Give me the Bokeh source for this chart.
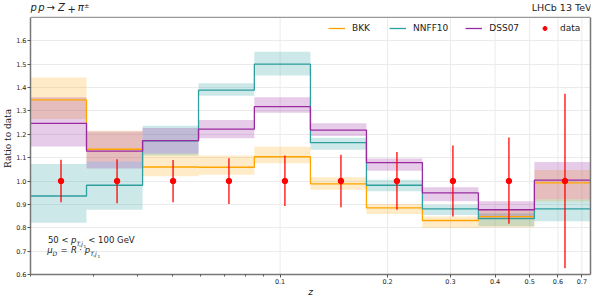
import numpy as np
from bokeh.plotting import figure
from bokeh.models import (Range1d, FixedTicker, Label, Legend, LegendItem, BasicTickFormatter,
                          Span, LinearAxis)
from bokeh.embed import file_html
from bokeh.resources import INLINE

# ---- data ----
z_edges = [0.0200, 0.0287, 0.0412, 0.0591, 0.0847, 0.1216, 0.1745, 0.2503, 0.3592, 0.5154, 0.7400]

bkk = [1.347, 1.136, 1.060, 1.059, 1.104, 0.988, 0.885, 0.831, 0.848, 0.992]
bkk_lo = [1.265, 1.084, 1.020, 1.027, 1.076, 0.963, 0.859, 0.799, 0.802, 0.912]
bkk_hi = [1.443, 1.215, 1.118, 1.109, 1.147, 1.016, 0.902, 0.848, 0.876, 1.047]

nnff = [0.936, 0.982, 1.172, 1.389, 1.500, 1.164, 0.982, 0.881, 0.839, 0.881]
nnff_lo = [0.821, 0.877, 1.109, 1.365, 1.452, 1.134, 0.956, 0.855, 0.806, 0.828]
nnff_hi = [1.073, 1.084, 1.237, 1.418, 1.553, 1.185, 1.005, 0.898, 0.862, 0.922]

dss = [1.247, 1.128, 1.173, 1.222, 1.318, 1.218, 1.079, 0.949, 0.877, 1.004]
dss_lo = [1.148, 1.054, 1.118, 1.183, 1.292, 1.193, 1.044, 0.913, 0.838, 0.922]
dss_hi = [1.358, 1.212, 1.227, 1.261, 1.358, 1.247, 1.096, 0.973, 0.913, 1.081]

data = [1.0, 1.0, 1.0, 1.0, 1.0, 1.0, 1.0, 1.0, 1.0, 1.0]
data_lo = [0.909, 0.905, 0.909, 0.902, 0.893, 0.888, 0.877, 0.848, 0.817, 0.627]
data_hi = [1.091, 1.093, 1.090, 1.097, 1.109, 1.112, 1.124, 1.152, 1.186, 1.374]

x_major_ticks = [0.1, 0.2, 0.3, 0.4, 0.5, 0.6, 0.7]
x_major_labels = ["0.1", "0.2", "0.3", "0.4", "0.5", "0.6", "0.7"]
x_minor_ticks = [0.02, 0.03, 0.04, 0.05, 0.06, 0.07, 0.08, 0.09]
y_ticks = [0.6, 0.7, 0.8, 0.9, 1.0, 1.1, 1.2, 1.3, 1.4, 1.5, 1.6]
y_labels = ["0.6", "0.7", "0.8", "0.9", "1.0", "1.1", "1.2", "1.3", "1.4", "1.5", "1.6"]
y_axis_min, y_axis_max = 0.6, 1.7
y_canvas_top = 1.764  # extra headroom above the axes box for the header texts

series = [
    ("BKK", bkk, bkk_lo, bkk_hi, "#FFA500", 0.22),
    ("NNFF10", nnff, nnff_lo, nnff_hi, "#2E9E9E", 0.24),
    ("DSS07", dss, dss_lo, dss_hi, "#982BA0", 0.24),
]

# ---- figure ----
p = figure(width=595, height=300, x_axis_type="log",
           x_range=Range1d(z_edges[0], z_edges[-1]), y_range=Range1d(y_axis_min, y_canvas_top),
           output_backend="svg", toolbar_location=None, title=None,
           min_border_left=29, min_border_right=5, min_border_top=2, min_border_bottom=26)
p.background_fill_color = "white"
p.border_fill_color = "white"
p.outline_line_color = None

spine_col = "#777777"

# vertical grid lines (bounded to the axes box)
p.segment(x0=x_major_ticks, y0=[y_axis_min] * len(x_major_ticks),
          x1=x_major_ticks, y1=[y_axis_max] * len(x_major_ticks),
          line_color="#EBEBEB", line_width=1, level="underlay")
p.xgrid.visible = False

left = z_edges[:-1]
right = z_edges[1:]

for name, vals, lo, hi, col, a in series:
    p.quad(left=left, right=right, bottom=lo, top=hi, fill_color=col, fill_alpha=a, line_color=None)

renderers = {}
for name, vals, lo, hi, col, a in series:
    renderers[name] = p.step(x=z_edges, y=list(vals) + [vals[-1]], mode="after",
                             line_color=col, line_width=1.3)

xc = [(a + b) / 2 for a, b in zip(left, right)]
p.segment(x0=xc, y0=data_lo, x1=xc, y1=data_hi, line_color="red", line_width=1.5, line_alpha=0.85)
r_data = p.scatter(x=xc, y=data, size=5.5, fill_color="red", line_color="red")

# top spine
p.add_layout(Span(location=y_axis_max, dimension="width", line_color="#999999", line_width=1.2))

# ---- axes ----
p.xaxis.ticker = FixedTicker(ticks=x_major_ticks, minor_ticks=x_minor_ticks)
p.xaxis.formatter = BasicTickFormatter(precision=1)
p.xaxis.major_label_overrides = dict(zip(x_major_ticks, x_major_labels))
p.yaxis.ticker = FixedTicker(ticks=y_ticks)
p.yaxis.formatter = BasicTickFormatter(precision=1)
p.yaxis.major_label_overrides = dict(zip(y_ticks, y_labels))
p.yaxis.bounds = (y_axis_min, y_axis_max)

for ax in (p.xaxis[0], p.yaxis[0]):
    ax.axis_line_color = spine_col
    ax.axis_line_width = 1.5
    ax.major_tick_line_color = "#555555"
    ax.minor_tick_line_color = "#555555"
    ax.major_tick_out = 3
    ax.major_tick_in = 0
    ax.minor_tick_out = 2
    ax.minor_tick_in = 0
    ax.major_label_text_font = "DejaVu Sans"
    ax.major_label_text_font_size = "6.5px"
    ax.major_label_text_color = "#222222"
    ax.major_label_standoff = 1
p.yaxis.minor_tick_line_color = None

p.xaxis.axis_label = "z"
p.xaxis.axis_label_text_font = "DejaVu Sans"
p.xaxis.axis_label_text_font_style = "italic"
p.xaxis.axis_label_text_font_size = "9px"
p.xaxis.axis_label_text_color = "#222222"
p.xaxis.axis_label_standoff = 0

p.yaxis.axis_label = "Ratio to data"
p.yaxis.axis_label_text_font = "DejaVu Serif"
p.yaxis.axis_label_text_font_style = "normal"
p.yaxis.axis_label_text_font_size = "9px"
p.yaxis.axis_label_text_color = "#222222"
p.yaxis.axis_label_standoff = 0

# right spine
p.add_layout(LinearAxis(bounds=(y_axis_min, y_axis_max), ticker=FixedTicker(ticks=[]),
                        axis_line_color=spine_col, axis_line_width=1.5,
                        major_tick_line_color=None, minor_tick_line_color=None,
                        major_tick_out=0, major_tick_in=0, minor_tick_out=0, minor_tick_in=0,
                        major_label_standoff=0, major_label_text_font_size="0px"), "right")

p.ygrid.grid_line_color = "#EBEBEB"
p.ygrid.grid_line_width = 1

# ---- legend ----
legend = Legend(items=[LegendItem(label="BKK", renderers=[renderers["BKK"]]),
                       LegendItem(label="NNFF10", renderers=[renderers["NNFF10"]]),
                       LegendItem(label="DSS07", renderers=[renderers["DSS07"]]),
                       LegendItem(label="data", renderers=[r_data])],
                orientation="horizontal", location=(291, 233.7), margin=0, padding=7,
                spacing=17, glyph_width=17, glyph_height=10, label_height=10,
                label_standoff=7, label_text_font="DejaVu Sans", label_text_font_size="9px",
                label_text_color="#222222", background_fill_alpha=0, border_line_alpha=0)
p.add_layout(legend)

# ---- texts ----
def lab(x, y, text, size="8.5px", style="normal", font="DejaVu Sans", **kw):
    p.add_layout(Label(x=x, y=y, x_units="screen", y_units="screen", text=text,
                       text_font=font, text_font_size=size, text_font_style=style,
                       text_color="#222222", **kw))

# header (top-left)
ty = 261.3
lab(0, ty, "p", size="10px", style="italic")
lab(7.8, ty, "p", size="10px", style="italic")
lab(16, ty, "\u2192", size="10px")
lab(27.5, ty, "Z", size="10px", style="italic")
lab(37, ty, "+", size="10px")
lab(47.3, ty, "\u03c0", size="10px", style="italic")
lab(53.5, ty + 3.5, "\u00b1", size="6.5px")

# header (top-right)
lab(561, ty, "LHCb 13 TeV", size="9.5px", text_align="right")

# annotation bottom-left
y1 = 30
lab(17.4, y1, "50 <")
lab(40.5, y1, "p", style="italic")
lab(45.9, y1 - 2, "T,j", size="6px", style="italic")
lab(53.1, y1 - 3.2, "1", size="4.3px")
lab(57.8, y1, "< 100 GeV")
y2 = 19.7
lab(16.7, y2, "\u03bc", style="italic")
lab(22.1, y2 - 2, "D", size="6px", style="italic")
lab(30, y2, "=")
lab(40.5, y2, "R", style="italic")
lab(48.8, y2, "\u00b7")
lab(54.3, y2, "p", style="italic")
lab(59.7, y2 - 2, "T,j", size="6px", style="italic")
lab(66.9, y2 - 3.2, "1", size="4.3px")

open("out.html", "w").write(file_html(p, INLINE))
